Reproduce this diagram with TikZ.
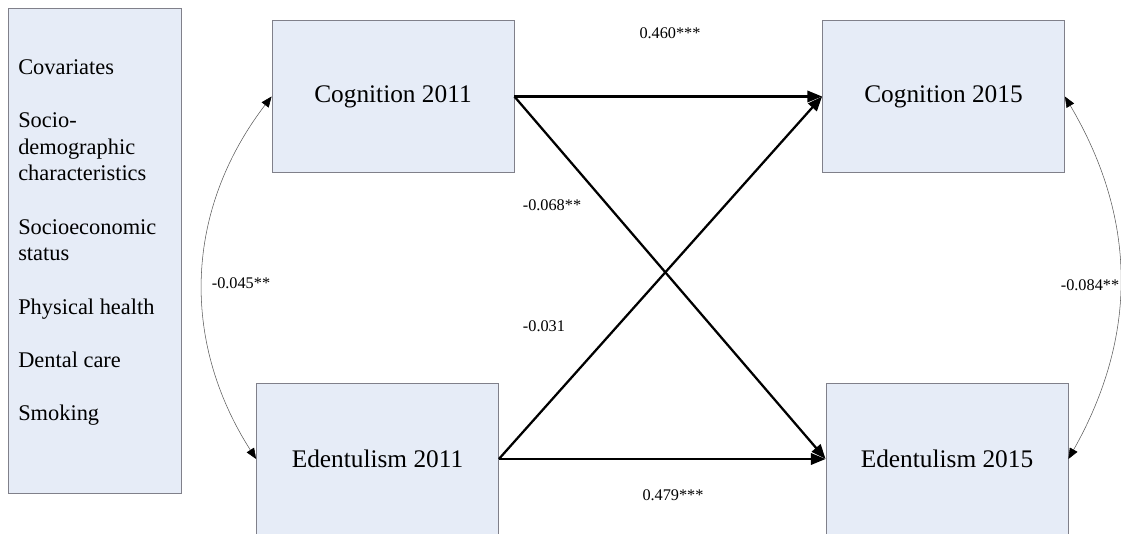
\documentclass[tikz,border=0pt]{standalone}
\usepackage{fontspec}
\setmainfont{Liberation Serif}
\usetikzlibrary{arrows.meta}
\definecolor{boxfill}{RGB}{230,236,247}
\definecolor{boxline}{RGB}{128,128,138}
\begin{document}
\begin{tikzpicture}[x=0.75pt, y=-0.75pt,
    main/.style = {draw=boxline, fill=boxfill, line width=0.6pt, minimum width=181.5pt, minimum height=113.5pt, font=\fontsize{19}{22}\selectfont},
    cov/.style = {draw=boxline, fill=boxfill, line width=0.6pt, minimum width=129.75pt, minimum height=363.75pt},
    covtext/.style = {inner sep=0pt, align=left, font=\fontsize{16.8}{20}\selectfont},
    coef/.style = {inner sep=0pt, font=\fontsize{12.2}{14}\selectfont},
    path/.style = {line width=1.7pt, -{Triangle[length=11pt, width=8.5pt]}},
    corr/.style = {line width=0.4pt, draw=black!65, {Triangle[length=8pt, width=6.5pt, color=black]}-{Triangle[length=8pt, width=6.5pt, color=black]}}]
    \useasboundingbox (0,0) rectangle (1121,534);
    \node[cov] (cov) at (94.5,250.5) {};
    \node[covtext, anchor=north west] (covlist) at (18,59) {Covariates\\[20pt]Socio-\\demographic\\characteristics\\[20pt]Socioeconomic\\status\\[20pt]Physical health\\[20pt]Dental care\\[20pt]Smoking};
    \node[main] (c11) at (393,96.5) {Cognition 2011};
    \node[main] (e11) at (377.5,459) {Edentulism 2011};
    \node[main] (c15) at (943.5,96.5) {Cognition 2015};
    \node[main] (e15) at (947,459) {Edentulism 2015};
    \draw[path] (c11.east) -- (c15.west);
    \draw[path] (e11.east) -- (e15.west);
    \draw[path] (c11.east) -- (e15.west);
    \draw[path] (e11.east) -- (c15.west);
    \draw[corr] (c11.west) to[bend right=35] (e11.west);
    \draw[corr] (c15.east) to[bend left=30] (e15.east);
    \node[coef] (b1) at (670,33) {0.460***};
    \node[coef] (b2) at (673,495) {0.479***};
    \node[coef] (b3) at (552,205) {-0.068**};
    \node[coef] (b4) at (544,326) {-0.031};
    \node[coef] (r1) at (241,283) {-0.045**};
    \node[coef] (r2) at (1090,285) {-0.084**};
\end{tikzpicture}
\end{document}
